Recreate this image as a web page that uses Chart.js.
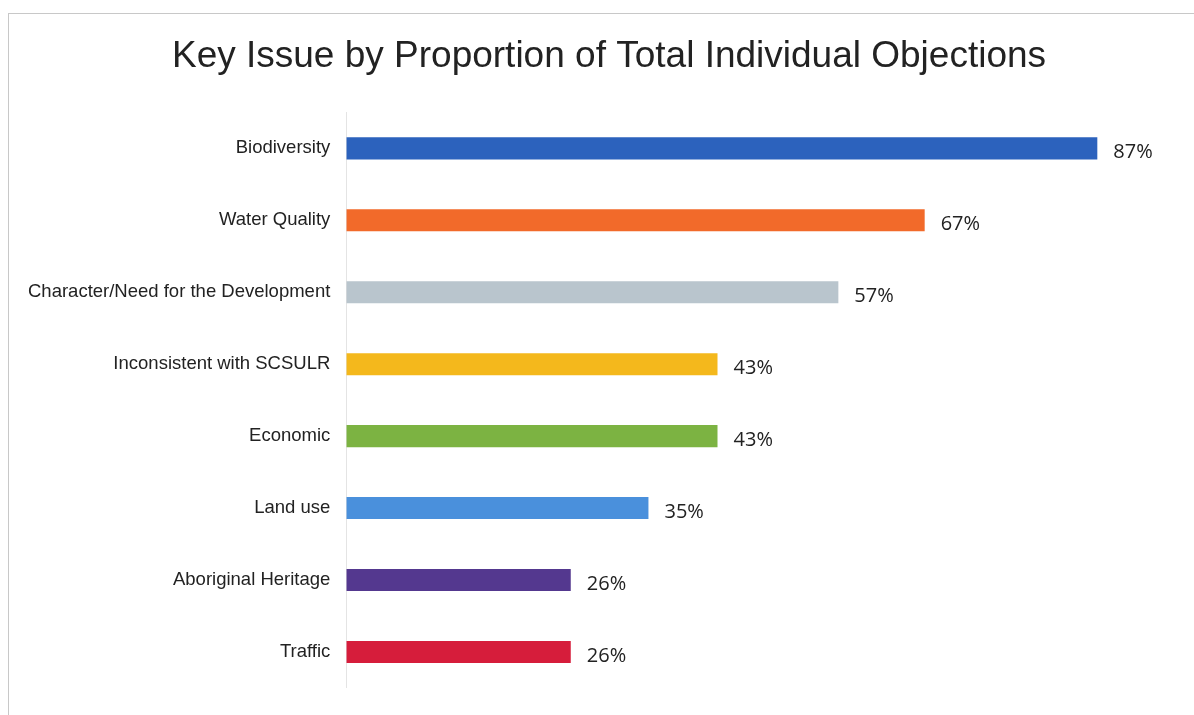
<!DOCTYPE html>
<html>
<head>
<meta charset="utf-8">
<script src="https://cdn.jsdelivr.net/npm/chart.js"></script>
<style>
  html, body { margin: 0; padding: 0; background: #fff; overflow: hidden; }
  #frame {
    position: absolute; left: 8px; top: 13px; width: 1300px; height: 800px;
    border-left: 1px solid #c8c8c8; border-top: 1px solid #c8c8c8;
  }
  #issueChart { position: absolute; left: 0; top: 0; }
</style>
</head>
<body>
<div id="frame"></div>
<canvas id="issueChart" width="1194" height="715"></canvas>
<script>
// Datos del gráfico
var issueLabels = [
  'Biodiversity',
  'Water Quality',
  'Character/Need for the Development',
  'Inconsistent with SCSULR',
  'Economic',
  'Land use',
  'Aboriginal Heritage',
  'Traffic'
];
var issueValues = [87, 67, 57, 43, 43, 35, 26, 26];
var issueColors = ['#2c62bd', '#f26a2a', '#b9c5cd', '#f4b81c', '#7cb342', '#4a90dc', '#54388f', '#d61d3b'];

// Etiquetas de porcentaje al final de cada barra
var valueLabelPlugin = {
  id: 'valueLabels',
  afterDatasetsDraw: function(chart) {
    var ctx = chart.ctx;
    var meta = chart.getDatasetMeta(0);
    ctx.save();
    ctx.font = '20px "Open Sans", sans-serif';
    ctx.fillStyle = '#222';
    ctx.textAlign = 'left';
    ctx.textBaseline = 'middle';
    meta.data.forEach(function(bar, i) {
      ctx.fillText(issueValues[i] + '%', bar.x + 16, bar.y + 4);
    });
    ctx.restore();
  }
};

var ctx = document.getElementById('issueChart').getContext('2d');
var issueChart = new Chart(ctx, {
  type: 'bar',
  data: {
    labels: issueLabels,
    datasets: [{
      data: issueValues,
      backgroundColor: issueColors,
      borderWidth: 0,
      barPercentage: 0.6,
      categoryPercentage: 0.51
    }]
  },
  options: {
    indexAxis: 'y',
    responsive: false,
    animation: false,
    layout: { padding: { left: 12, right: -12, top: 10, bottom: 21 } },
    plugins: {
      legend: { display: false },
      tooltip: { enabled: false },
      title: {
        display: true,
        text: 'Key Issue by Proportion of Total Individual Objections',
        color: '#222',
        font: { family: '"Liberation Sans", Arial, sans-serif', size: 37, weight: 'normal' },
        padding: { top: 25, bottom: 33 }
      }
    },
    scales: {
      x: {
        min: 0,
        max: 98.2,
        display: false
      },
      y: {
        grid: { display: false, drawTicks: false },
        border: { display: true, color: '#e4e4e4', width: 1 },
        ticks: {
          color: '#222',
          padding: 16,
          font: { family: '"Liberation Sans", Arial, sans-serif', size: 18.5 }
        }
      }
    }
  },
  plugins: [valueLabelPlugin]
});
</script>
</body>
</html>
